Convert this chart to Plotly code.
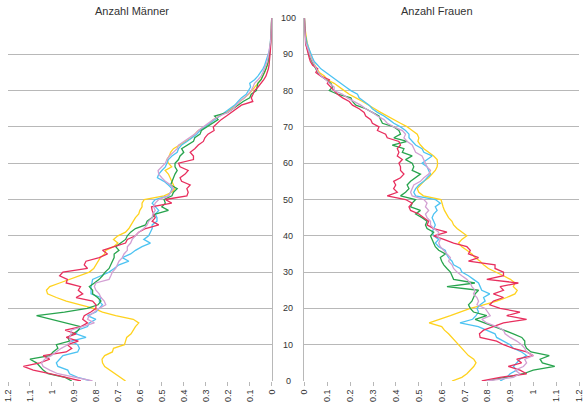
import plotly.graph_objects as go
from plotly.subplots import make_subplots

AGES = list(range(0, 101))

# Men, per age 0..100
MEN_YELLOW = [0.665, 0.69, 0.71, 0.735, 0.76, 0.77, 0.772, 0.76, 0.725, 0.72,
              0.67, 0.665, 0.66, 0.64, 0.63, 0.62, 0.605, 0.63, 0.71, 0.77,
              0.81, 0.875, 0.935, 0.98, 1.02, 1.025, 1.01, 0.965, 0.92, 0.875,
              0.83, 0.81, 0.80, 0.79, 0.78, 0.76, 0.755, 0.72, 0.70, 0.72,
              0.70, 0.665, 0.65, 0.64, 0.63, 0.62, 0.605, 0.60, 0.59, 0.59,
              0.58, 0.49, 0.455, 0.44, 0.447, 0.455, 0.46, 0.47, 0.485, 0.455,
              0.47, 0.477, 0.466, 0.46, 0.447, 0.417, 0.394, 0.364, 0.35, 0.334,
              0.304, 0.28, 0.266, 0.24, 0.21, 0.183, 0.165, 0.145, 0.123, 0.105,
              0.09, 0.075, 0.063, 0.05, 0.04, 0.032, 0.026, 0.02, 0.015, 0.012,
              0.01, 0.008, 0.006, 0.005, 0.004, 0.003, 0.002, 0.002, 0.001, 0.001, 0.0]
MEN_RED = [0.868, 0.935, 1.01, 1.085, 1.13, 1.055, 1.01, 1.04, 0.935, 0.91,
           0.93, 0.88, 0.935, 0.89, 0.94, 0.868, 0.838, 0.86, 0.853, 0.823,
           0.80, 0.80, 0.815, 0.89, 0.86, 0.88, 0.87, 0.935, 0.93, 0.965,
           0.95, 0.838, 0.853, 0.845, 0.785, 0.747, 0.77, 0.717, 0.665, 0.657,
           0.62, 0.605, 0.574, 0.514, 0.544, 0.53, 0.537, 0.544, 0.547, 0.455,
           0.484, 0.386, 0.38, 0.386, 0.371, 0.41, 0.417, 0.394, 0.38, 0.417,
           0.424, 0.356, 0.356, 0.371, 0.35, 0.334, 0.311, 0.304, 0.29, 0.262,
           0.266, 0.25, 0.23, 0.206, 0.183, 0.165, 0.138, 0.086, 0.093, 0.085,
           0.078, 0.062, 0.048, 0.036, 0.026, 0.02, 0.015, 0.012, 0.01, 0.008,
           0.006, 0.005, 0.004, 0.003, 0.002, 0.002, 0.001, 0.001, 0.001, 0.0, 0.0]
MEN_GREEN = [0.91, 0.94, 1.018, 1.04, 1.055, 1.07, 1.10, 1.01, 0.995, 0.973,
             0.98, 0.92, 0.928, 0.905, 0.88, 0.87, 0.935, 1.003, 1.07, 0.943,
             0.84, 0.79, 0.777, 0.792, 0.815, 0.815, 0.83, 0.807, 0.785, 0.77,
             0.758, 0.74, 0.732, 0.725, 0.717, 0.717, 0.695, 0.71, 0.687, 0.665,
             0.657, 0.642, 0.62, 0.574, 0.567, 0.544, 0.53, 0.47, 0.50, 0.484,
             0.49, 0.454, 0.447, 0.43, 0.46, 0.454, 0.447, 0.44, 0.43, 0.44,
             0.44, 0.424, 0.417, 0.40, 0.41, 0.38, 0.356, 0.35, 0.326, 0.32,
             0.296, 0.266, 0.244, 0.26, 0.20, 0.176, 0.153, 0.13, 0.10, 0.093,
             0.07, 0.068, 0.063, 0.048, 0.04, 0.033, 0.026, 0.02, 0.016, 0.013,
             0.01, 0.008, 0.006, 0.004, 0.003, 0.002, 0.002, 0.001, 0.001, 0.0, 0.0]
MEN_BLUE = [0.822, 0.883, 0.92, 0.928, 0.973, 0.98, 0.965, 0.95, 0.883, 0.875,
            0.883, 0.913, 0.845, 0.89, 0.883, 0.838, 0.83, 0.80, 0.838, 0.80,
            0.785, 0.77, 0.785, 0.777, 0.822, 0.822, 0.822, 0.818, 0.815, 0.777,
            0.74, 0.717, 0.695, 0.65, 0.68, 0.642, 0.62, 0.59, 0.552, 0.582,
            0.56, 0.552, 0.544, 0.544, 0.522, 0.522, 0.53, 0.514, 0.53, 0.544,
            0.53, 0.47, 0.46, 0.454, 0.47, 0.49, 0.52, 0.514, 0.50, 0.484,
            0.477, 0.47, 0.454, 0.43, 0.424, 0.41, 0.386, 0.364, 0.341, 0.326,
            0.304, 0.28, 0.26, 0.236, 0.213, 0.19, 0.168, 0.153, 0.138, 0.116,
            0.105, 0.096, 0.10, 0.078, 0.063, 0.05, 0.04, 0.032, 0.026, 0.02,
            0.015, 0.011, 0.008, 0.006, 0.004, 0.003, 0.002, 0.001, 0.001, 0.0, 0.0]
MEN_PINK = [0.815, 0.89, 0.973, 1.01, 1.04, 1.048, 1.033, 1.003, 0.98, 0.958,
            0.928, 0.913, 0.92, 0.913, 0.913, 0.86, 0.807, 0.838, 0.83, 0.807,
            0.785, 0.755, 0.762, 0.777, 0.785, 0.80, 0.807, 0.80, 0.74, 0.732,
            0.725, 0.71, 0.702, 0.695, 0.68, 0.672, 0.657, 0.657, 0.642, 0.635,
            0.62, 0.605, 0.582, 0.567, 0.56, 0.544, 0.541, 0.53, 0.537, 0.53,
            0.514, 0.47, 0.46, 0.447, 0.46, 0.484, 0.50, 0.514, 0.517, 0.50,
            0.484, 0.477, 0.466, 0.447, 0.43, 0.424, 0.40, 0.371, 0.35, 0.334,
            0.311, 0.289, 0.266, 0.236, 0.20, 0.176, 0.16, 0.146, 0.123, 0.108,
            0.093, 0.085, 0.078, 0.062, 0.048, 0.04, 0.033, 0.026, 0.02, 0.017,
            0.014, 0.011, 0.008, 0.006, 0.004, 0.003, 0.002, 0.001, 0.001, 0.001, 0.0]

# Women, per age 0..100
WOMEN_YELLOW = [0.645, 0.688, 0.71, 0.725, 0.74, 0.75, 0.74, 0.717, 0.703, 0.688,
                0.674, 0.66, 0.648, 0.63, 0.612, 0.60, 0.545, 0.594, 0.638, 0.68,
                0.725, 0.783, 0.84, 0.884, 0.92, 0.93, 0.913, 0.92, 0.90, 0.87,
                0.84, 0.804, 0.783, 0.768, 0.746, 0.732, 0.71, 0.688, 0.674, 0.688,
                0.71, 0.688, 0.667, 0.652, 0.645, 0.63, 0.62, 0.612, 0.606, 0.60,
                0.597, 0.52, 0.50, 0.493, 0.507, 0.522, 0.543, 0.558, 0.572, 0.58,
                0.582, 0.58, 0.565, 0.543, 0.522, 0.507, 0.496, 0.50, 0.493, 0.471,
                0.45, 0.42, 0.39, 0.362, 0.333, 0.307, 0.283, 0.254, 0.225, 0.196,
                0.174, 0.152, 0.13, 0.10, 0.087, 0.065, 0.055, 0.043, 0.036, 0.031,
                0.026, 0.021, 0.017, 0.013, 0.01, 0.007, 0.005, 0.003, 0.002, 0.001, 0.0]
WOMEN_RED = [0.775, 0.855, 0.971, 0.942, 0.891, 0.949, 0.928, 1.0, 0.971, 0.913,
             0.87, 0.84, 0.768, 0.765, 0.783, 0.826, 0.87, 0.971, 0.884, 0.942,
             0.855, 0.81, 0.826, 0.87, 0.826, 0.87, 0.855, 0.935, 0.797, 0.87,
             0.87, 0.833, 0.833, 0.717, 0.761, 0.717, 0.725, 0.71, 0.652, 0.609,
             0.565, 0.623, 0.565, 0.536, 0.543, 0.522, 0.50, 0.464, 0.457, 0.471,
             0.442, 0.362, 0.406, 0.39, 0.399, 0.39, 0.42, 0.435, 0.42, 0.42,
             0.413, 0.428, 0.406, 0.413, 0.406, 0.42, 0.413, 0.362, 0.355, 0.319,
             0.326, 0.297, 0.29, 0.268, 0.261, 0.239, 0.21, 0.196, 0.167, 0.145,
             0.13, 0.116, 0.10, 0.109, 0.072, 0.05, 0.058, 0.036, 0.026, 0.021,
             0.017, 0.012, 0.007, 0.005, 0.004, 0.003, 0.002, 0.001, 0.001, 0.0, 0.0]
WOMEN_GREEN = [0.797, 0.884, 0.957, 1.0, 1.094, 1.04, 1.03, 1.07, 0.99, 0.971,
               0.963, 0.963, 0.95, 0.913, 0.87, 0.833, 0.79, 0.746, 0.797, 0.739,
               0.725, 0.717, 0.732, 0.739, 0.746, 0.761, 0.623, 0.745, 0.652, 0.645,
               0.638, 0.623, 0.609, 0.60, 0.594, 0.616, 0.587, 0.572, 0.565, 0.558,
               0.551, 0.565, 0.536, 0.529, 0.536, 0.514, 0.486, 0.507, 0.464, 0.471,
               0.486, 0.42, 0.442, 0.457, 0.449, 0.464, 0.486, 0.507, 0.471, 0.478,
               0.471, 0.442, 0.471, 0.428, 0.435, 0.384, 0.449, 0.391, 0.42, 0.413,
               0.391, 0.341, 0.333, 0.326, 0.297, 0.268, 0.225, 0.21, 0.203, 0.145,
               0.109, 0.123, 0.116, 0.094, 0.072, 0.058, 0.049, 0.04, 0.033, 0.026,
               0.02, 0.014, 0.01, 0.007, 0.005, 0.004, 0.003, 0.002, 0.001, 0.001, 0.0]
WOMEN_BLUE = [0.855, 0.884, 0.899, 0.928, 0.913, 0.928, 0.942, 0.971, 0.949, 0.913,
              0.899, 0.87, 0.84, 0.833, 0.80, 0.76, 0.68, 0.735, 0.75, 0.761,
              0.754, 0.768, 0.79, 0.783, 0.81, 0.775, 0.768, 0.761, 0.739, 0.717,
              0.688, 0.681, 0.652, 0.645, 0.63, 0.62, 0.616, 0.587, 0.572, 0.587,
              0.565, 0.558, 0.565, 0.572, 0.565, 0.558, 0.565, 0.58, 0.572, 0.594,
              0.572, 0.486, 0.478, 0.486, 0.50, 0.522, 0.536, 0.551, 0.543, 0.536,
              0.514, 0.536, 0.558, 0.522, 0.514, 0.486, 0.471, 0.457, 0.457, 0.442,
              0.42, 0.391, 0.37, 0.348, 0.319, 0.297, 0.283, 0.261, 0.239, 0.232,
              0.203, 0.181, 0.159, 0.138, 0.116, 0.094, 0.072, 0.058, 0.043, 0.036,
              0.029, 0.023, 0.017, 0.012, 0.007, 0.005, 0.003, 0.002, 0.001, 0.001, 0.0]
WOMEN_PINK = [0.797, 0.913, 0.942, 0.92, 0.957, 0.971, 0.963, 1.0, 0.971, 0.963,
              0.949, 0.928, 0.899, 0.877, 0.87, 0.84, 0.797, 0.775, 0.812, 0.80,
              0.79, 0.754, 0.761, 0.754, 0.739, 0.746, 0.732, 0.725, 0.71, 0.688,
              0.667, 0.652, 0.645, 0.63, 0.638, 0.623, 0.609, 0.594, 0.587, 0.594,
              0.58, 0.587, 0.565, 0.551, 0.551, 0.536, 0.529, 0.543, 0.529, 0.536,
              0.522, 0.471, 0.464, 0.471, 0.478, 0.507, 0.522, 0.543, 0.551, 0.536,
              0.529, 0.522, 0.514, 0.486, 0.478, 0.471, 0.449, 0.435, 0.442, 0.428,
              0.391, 0.362, 0.348, 0.319, 0.297, 0.268, 0.246, 0.217, 0.188, 0.167,
              0.13, 0.13, 0.109, 0.094, 0.072, 0.061, 0.052, 0.043, 0.036, 0.029,
              0.023, 0.017, 0.012, 0.007, 0.005, 0.003, 0.002, 0.001, 0.001, 0.001, 0.0]

PANEL_TITLES = ["Anzahl Männer", "Anzahl Frauen"]
X_TICKS = [0, 0.1, 0.2, 0.3, 0.4, 0.5, 0.6, 0.7, 0.8, 0.9, 1, 1.1, 1.2]
X_TICK_TEXT = ["0", "0.1", "0.2", "0.3", "0.4", "0.5", "0.6", "0.7", "0.8", "0.9", "1", "1.1", "1.2"]
Y_TICKS = [0, 10, 20, 30, 40, 50, 60, 70, 80, 90, 100]

COLORS = {"yellow": "#FFD21E", "blue": "#4DC3F2", "green": "#28A44E",
          "red": "#E82F5E", "pink": "#D3A0D3"}

men = [("yellow", MEN_YELLOW), ("blue", MEN_BLUE), ("green", MEN_GREEN),
       ("red", MEN_RED), ("pink", MEN_PINK)]
women = [("yellow", WOMEN_YELLOW), ("blue", WOMEN_BLUE), ("green", WOMEN_GREEN),
         ("red", WOMEN_RED), ("pink", WOMEN_PINK)]

W, H = 587, 405
ML, MR, MT, MB = 8, 3, 18, 23
PW = W - ML - MR

fig = make_subplots(rows=1, cols=2, shared_yaxes=False)

for col, group in ((1, men), (2, women)):
    for name, vals in group:
        fig.add_trace(go.Scatter(x=vals, y=AGES, mode="lines",
                                 line=dict(color=COLORS[name], width=1.3),
                                 hoverinfo="skip", showlegend=False),
                      row=1, col=col)

FONT = "Liberation Sans, Arial, sans-serif"
GRID = "#B8B8B8"

xcommon = dict(tickmode="array", tickvals=X_TICKS, ticktext=X_TICK_TEXT,
               tickangle=-90, ticks="outside", ticklen=4, tickcolor=GRID,
               showgrid=False, zeroline=False, showline=False,
               tickfont=dict(family=FONT, size=9, color="#333333"))
fig.update_xaxes(range=[1.2, 0], domain=[0, (274 - ML) / PW], **xcommon, row=1, col=1)
fig.update_xaxes(range=[0, 1.2], domain=[(307 - ML) / PW, 1], **xcommon, row=1, col=2)

ycommon = dict(range=[0, 100], tickmode="array", tickvals=Y_TICKS,
               showticklabels=False, showgrid=True, gridcolor=GRID, gridwidth=1.2,
               zeroline=False, showline=True, linecolor=GRID, linewidth=1.2,
               domain=[0, 1])
fig.update_yaxes(side="right", **ycommon, row=1, col=1)
fig.update_yaxes(side="left", **ycommon, row=1, col=2)

annotations = []
for v in Y_TICKS:
    annotations.append(dict(x=(290.5 - ML) / PW, xref="paper", y=v, yref="y",
                            text=str(v), showarrow=False, xanchor="center",
                            yanchor="middle",
                            font=dict(family=FONT, size=9, color="#333333")))
for title, cx in zip(PANEL_TITLES, (133, 441)):
    annotations.append(dict(x=(cx - ML) / PW, xref="paper", y=1.0, yref="paper",
                            yshift=7, text=title, showarrow=False,
                            xanchor="center", yanchor="middle",
                            font=dict(family=FONT, size=11, color="#333333")))

fig.update_layout(width=W, height=H, margin=dict(l=ML, r=MR, t=MT, b=MB),
                  paper_bgcolor="white", plot_bgcolor="white",
                  annotations=annotations, showlegend=False)

fig.write_html("out.html")
